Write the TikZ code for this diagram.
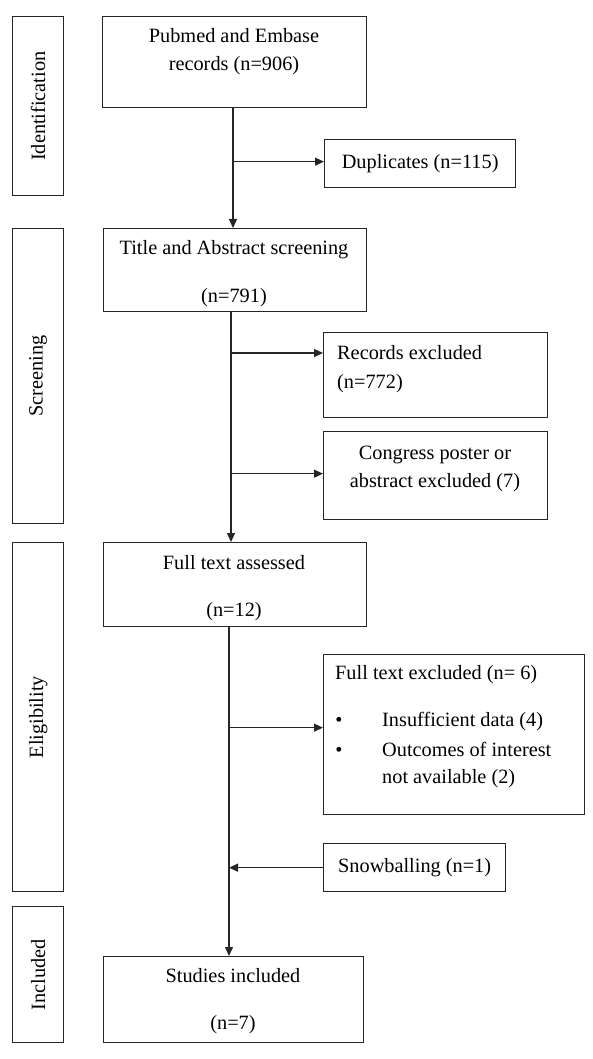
\documentclass[tikz,border=0pt]{standalone}
\usepackage{fontspec}
\setmainfont{Liberation Serif}
\usetikzlibrary{arrows.meta}
\begin{document}
\begin{tikzpicture}[x=1pt,y=-1pt,
  every node/.style={font=\fontsize{20.3}{28}\selectfont},
  box/.style={draw=black!85, line width=1.3pt, anchor=north west, inner sep=0pt},
  side/.style={box, minimum width=51pt},
  txt/.style={inner sep=0pt, align=center, anchor=base},
  txtl/.style={inner sep=0pt, align=left, anchor=base west},
  conn/.style={draw=black!85, line width=1.3pt},
  arr/.style={conn, -{Triangle[length=9pt,width=8pt]}}]
\useasboundingbox (0,0) rectangle (593,1059);
% side stage boxes
\node[side, minimum height=179pt] (sid) at (12,16) {};
\node[rotate=90] (sidt) at (sid.center) {Identification};
\node[side, minimum height=295pt] (sscr) at (12,228) {};
\node[rotate=90] (sscrt) at (sscr.center) {Screening};
\node[side, minimum height=349pt] (selig) at (12,542) {};
\node[rotate=90] (seligt) at (selig.center) {Eligibility};
\node[side, minimum height=136pt] (sinc) at (12,906) {};
\node[rotate=90] (sinct) at (sinc.center) {Included};
% main boxes
\node[box, minimum width=264pt, minimum height=91pt] (pub) at (102,16) {};
\node[txt] (pubt) at (234,71) {Pubmed and Embase\\records (n=906)};
\node[box, minimum width=263pt, minimum height=83pt] (title) at (103,228) {};
\node[txt] (titlet) at (234,302) {Title and Abstract screening\\[20pt](n=791)};
\node[box, minimum width=263pt, minimum height=84pt] (full) at (103,542) {};
\node[txt] (fullt) at (234,616) {Full text assessed\\[19pt](n=12)};
\node[box, minimum width=260pt, minimum height=86pt] (stud) at (103,956) {};
\node[txt] (studt) at (233,1029) {Studies included\\[19pt](n=7)};
% side boxes
\node[box, minimum width=191pt, minimum height=48pt] (dup) at (324,139) {Duplicates (n=115)};
\node[box, minimum width=224pt, minimum height=85pt] (rec) at (323,332) {};
\node[txtl] (rect) at (337,388) {Records excluded\\[1pt](n=772)};
\node[box, minimum width=224pt, minimum height=88pt] (cong) at (323,431) {};
\node[txt] (congt) at (435,487) {Congress poster or\\abstract excluded (7)};
\node[box, minimum width=261pt, minimum height=160pt] (fte) at (323,654) {};
\node[txtl] (ftet) at (335,679) {Full text excluded (n= 6)};
\node[inner sep=0pt, anchor=base] (b1) at (339,726) {•};
\node[inner sep=0pt, anchor=base] (b2) at (339,756) {•};
\node[txtl] (ftel) at (382,783) {Insufficient data (4)\\[2pt]Outcomes of interest\\[-1pt]not available (2)};
\node[box, minimum width=182pt, minimum height=48pt] (snow) at (323,843) {Snowballing (n=1)};
% trunk coordinates
\coordinate (t1) at (233,0);
\coordinate (t2) at (231,0);
\coordinate (t3) at (229,0);
% connectors
\draw[arr] (pub.south -| t1) -- (title.north -| t1);
\draw[arr] ([yshift=2pt]dup.west -| t1) -- ([yshift=2pt]dup.west);
\draw[arr] (title.south -| t2) -- (full.north -| t2);
\draw[arr] ([yshift=-21pt]rec.north west -| t2) -- ([yshift=-21pt]rec.north west);
\draw[arr] ([yshift=2pt]cong.west -| t2) -- ([yshift=2pt]cong.west);
\draw[arr] (full.south -| t3) -- (stud.north -| t3);
\draw[arr] ([yshift=7pt]fte.west -| t3) -- ([yshift=7pt]fte.west);
\draw[arr] (snow.west) -- (snow.west -| t3);
\end{tikzpicture}
\end{document}
